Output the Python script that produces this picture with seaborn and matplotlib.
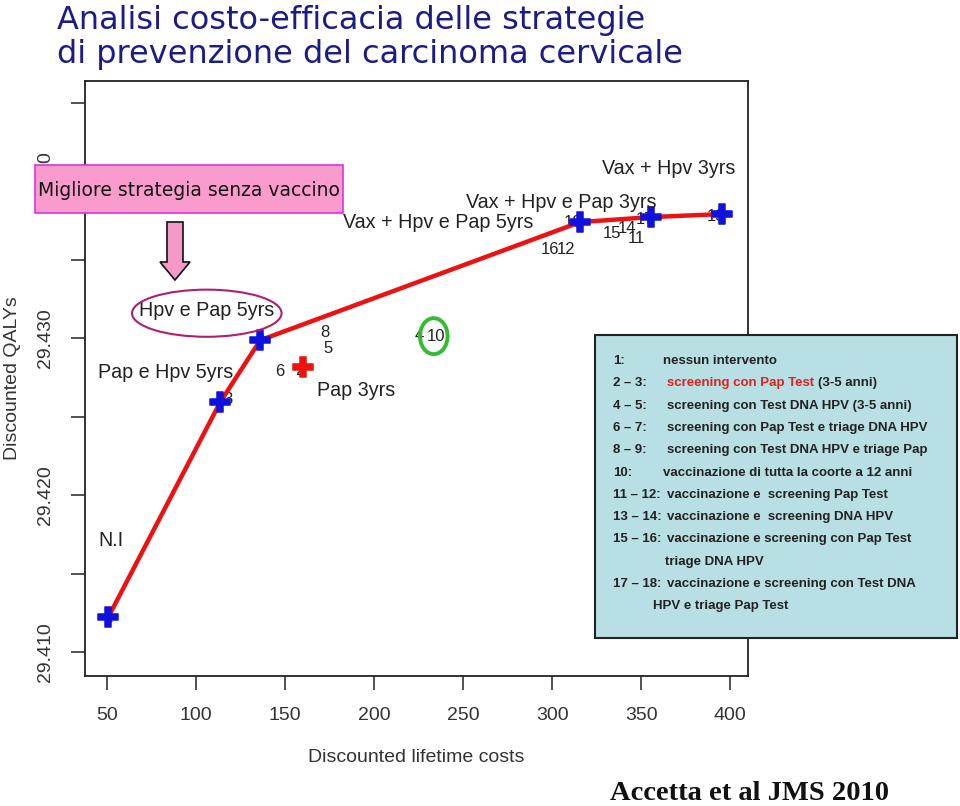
import matplotlib
matplotlib.use("Agg")
import matplotlib.pyplot as plt
import seaborn as sns
import pandas as pd
import numpy as np
from matplotlib.patches import Ellipse, FancyArrow, Rectangle

# strategy labels (number -> position of its label in the plot)
strat_ids = ["1", "2", "3", "4", "5", "6", "7", "8", "9", "10",
             "11", "12", "13", "14", "15", "16", "17", "18"]
strat_cost = [50.6, 158.4, 118.0, 225.3, 174.2, 147.2, 113.5, 172.5, 136.0, 234.8,
              347.2, 307.9, 392.0, 342.0, 333.7, 298.9, 352.0, 311.8]
strat_qaly = [29.4122, 29.42796, 29.4261, 29.4302, 29.42936, 29.4279, 29.42592, 29.43038, 29.42987, 29.43013,
              29.43637, 29.43567, 29.43777, 29.43701, 29.43669, 29.43567, 29.43758, 29.43739]

# efficient frontier
front_cost = [50.6, 113.5, 136.0, 315.7, 355.6, 395.5]
front_qaly = [29.41223, 29.42592, 29.42987, 29.43739, 29.43771, 29.4379]

# pap test 3 yrs (red marker)
pap3_cost = [160.0]
pap3_qaly = [29.42815]

xticks = [50, 100, 150, 200, 250, 300, 350, 400]
yticks = [29.410, 29.415, 29.420, 29.425, 29.430, 29.435, 29.440, 29.445]
ytick_labels = ["29.410", "", "29.420", "", "29.430", "", "29.440", ""]

legend_lines = [
    ("1:", "nessun intervento"),
    ("2 \u2013 3:", "screening con Pap Test"),
    ("4 \u2013 5:", "screening con Test DNA HPV (3-5 anni)"),
    ("6 \u2013 7:", "screening con Pap Test e triage DNA HPV"),
    ("8 \u2013 9:", "screening con Test DNA HPV e triage Pap"),
    ("10:", "vaccinazione di tutta la coorte a 12 anni"),
    ("11 \u2013 12:", "vaccinazione e  screening Pap Test"),
    ("13 \u2013 14:", "vaccinazione e  screening DNA HPV"),
    ("15 \u2013 16:", "vaccinazione e screening con Pap Test"),
    ("", "triage DNA HPV"),
    ("17 \u2013 18:", "vaccinazione e screening con Test DNA"),
    ("", "HPV e triage Pap Test"),
]

sns.set_style("white")
plt.rcParams["font.family"] = ["Liberation Sans", "DejaVu Sans"]

fig = plt.figure(figsize=(9.6, 8.06), dpi=100)
ax = fig.add_axes([85/960, 1-676/806, (748-85)/960, (676-81)/806])

strat = pd.DataFrame({"cost": strat_cost, "qaly": strat_qaly, "id": strat_ids})
front = pd.DataFrame({"cost": front_cost, "qaly": front_qaly})
pap3 = pd.DataFrame({"cost": pap3_cost, "qaly": pap3_qaly})

# number labels
for _, r in strat.iterrows():
    ax.text(r["cost"], r["qaly"], r["id"], fontsize=12, ha="center", va="center", color="#222222", zorder=2)

sns.lineplot(data=front, x="cost", y="qaly", color="#ee1111", lw=3.2, ax=ax, zorder=3, sort=False)
sns.scatterplot(data=front, x="cost", y="qaly", marker="P", s=190, color="#1111dd", edgecolor="#1111dd", ax=ax, zorder=4)
sns.scatterplot(data=pap3, x="cost", y="qaly", marker="P", s=190, color="#ee1111", edgecolor="#ee1111", ax=ax, zorder=4)

ax.set_xlim(37.6, 410)
ax.set_ylim(29.4085, 29.44637)
ax.set_xticks(xticks)
ax.set_xticklabels([str(t) for t in xticks], fontsize=14, color="#333333")
ax.set_yticks(yticks)
ax.set_yticklabels(ytick_labels, fontsize=14, color="#333333", rotation=90, va="center")
ax.tick_params(axis="both", length=10, width=1.2, color="#333333", direction="out",
               bottom=True, left=True, pad=12)
for s in ax.spines.values():
    s.set_color("#222222")
    s.set_linewidth(1.3)
ax.set_xlabel("Discounted lifetime costs", fontsize=14, color="#333333", labelpad=18)
ax.set_ylabel("Discounted QALYs", fontsize=14, color="#333333", labelpad=12)

# strategy names
ann = dict(fontsize=14.2, color="#222222", ha="center", va="center", zorder=5)
ax.text(365.5, 29.44083, "Vax + Hpv 3yrs", **ann)
ax.text(305, 29.43866, "Vax + Hpv e Pap 3yrs", **ann)
ax.text(236, 29.43739, "Vax + Hpv e Pap 5yrs", **ann)
ax.text(106, 29.43178, "Hpv e Pap 5yrs", **ann)
ax.text(83, 29.42783, "Pap e Hpv 5yrs", **ann)
ax.text(190, 29.42669, "Pap 3yrs", **ann)
ax.text(52, 29.41713, "N.I", **ann)
ax.add_patch(Ellipse((106, 29.43159), 84, 0.00300, fill=False, edgecolor="#b0206a", lw=1.5, zorder=5))
ax.add_patch(Ellipse((233.5, 29.43013), 15.5, 0.00229, fill=False, edgecolor="#33bb33", lw=2.8, zorder=5))

# title
tkw = dict(family="DejaVu Sans", fontsize=23, color="#1c1c88", ha="left", va="baseline")
fig.text(57/960, 1-29/806, "Analisi costo-efficacia delle strategie", **tkw)
fig.text(57/960, 1-63/806, "di prevenzione del carcinoma cervicale", **tkw)

# pink box and arrow
fig.patches.append(Rectangle((35/960, 1-213/806), 308/960, 48/806, transform=fig.transFigure,
                             facecolor="#f99ccd", edgecolor="#dd33dd", lw=1.2, zorder=10))
fig.text(189/960, 1-190/806, "Migliore strategia senza vaccino", family="DejaVu Sans",
         fontsize=13.5, color="#111111", ha="center", va="center", zorder=11)
fig.patches.append(FancyArrow(175/960, 1-222/806, 0, -58/806, width=16/960, head_width=30/960,
                              head_length=18/806, length_includes_head=True, transform=fig.transFigure,
                              facecolor="#f799c8", edgecolor="#111111", lw=1.2, zorder=10))

# legend box
fig.patches.append(Rectangle((595/960, 1-638/806), 362/960, 303/806, transform=fig.transFigure,
                             facecolor="#b8dfe3", edgecolor="#222222", lw=1.5, zorder=10))
renderer = fig.canvas.get_renderer()
lkw = dict(fontsize=9.5, weight="bold", va="center", zorder=11)
y0 = 361
for i, (num, txt) in enumerate(legend_lines):
    yy = 1 - (y0 + i*22.3)/806
    fig.text(613/960, yy, num, color="#222222", **lkw)
    if num == "":
        xx = 665 if txt.startswith("triage") else 653
    elif len(num) > 5:
        xx = 667
    else:
        xx = 663
    if num.startswith("2"):
        t = fig.text(xx/960, yy, txt, color="#dd2222", **lkw)
        bb = t.get_window_extent(renderer)
        fig.text((bb.x1 + 4)/960, yy, "(3-5 anni)", color="#222222", **lkw)
    else:
        fig.text(xx/960, yy, txt, color="#222222", **lkw)

fig.text(750/960, 1-793/806, "Accetta et al JMS 2010", family="Liberation Serif", weight="bold",
         fontsize=20.5, color="#111111", ha="center", va="center")

fig.savefig("out.png", dpi=100)
